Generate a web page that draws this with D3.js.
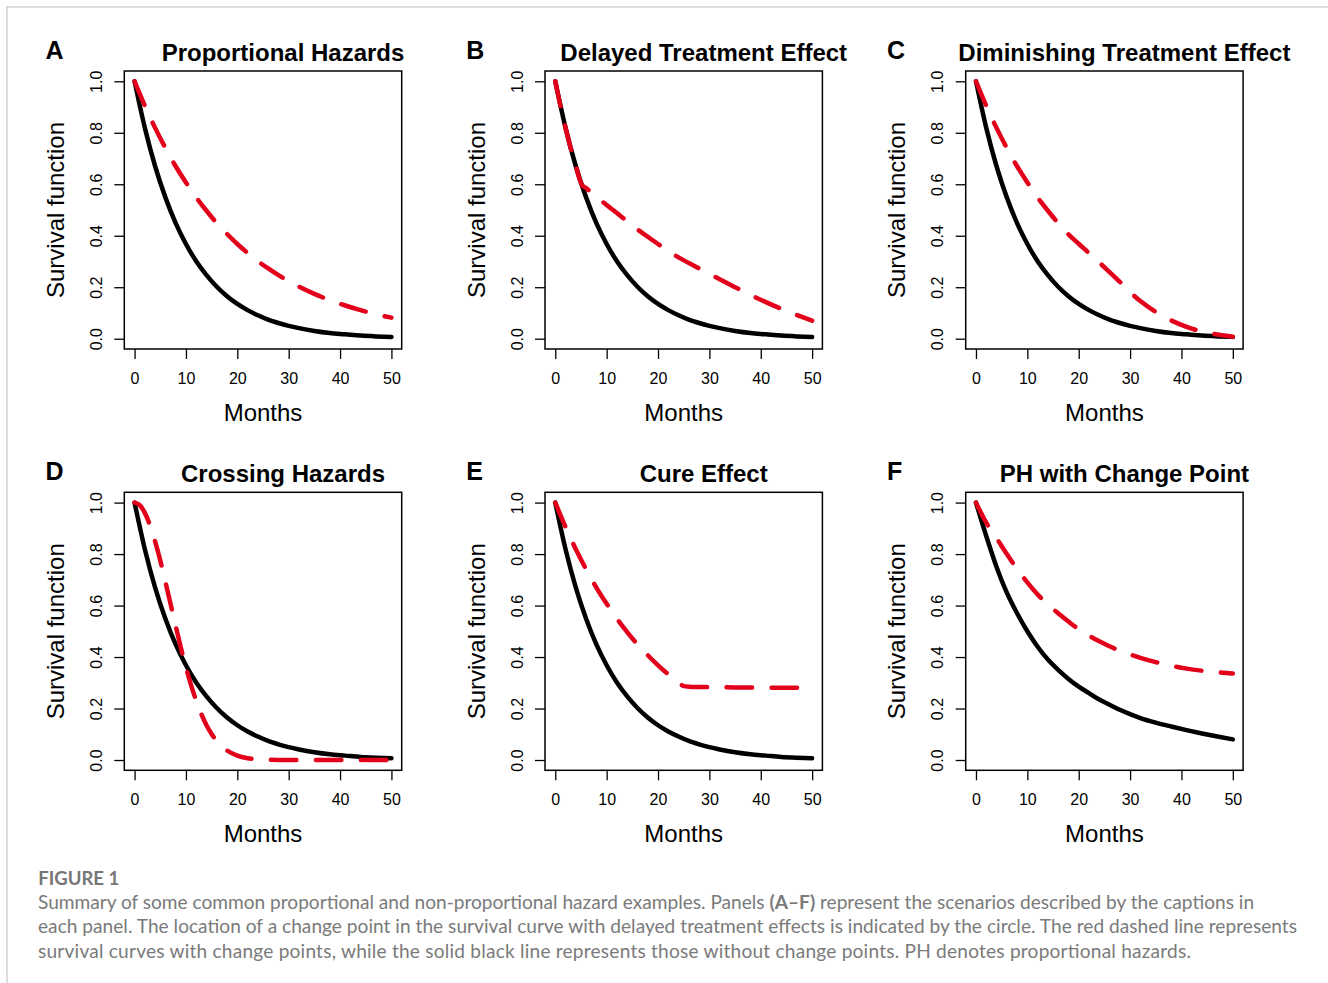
<!DOCTYPE html>
<html>
<head>
<meta charset="utf-8">
<script src="https://cdn.jsdelivr.net/npm/d3@7"></script>
<style>
  html, body { margin: 0; padding: 0; background: #fff; }
  svg { display: block; }
</style>
</head>
<body>
<svg id="chart" width="1328" height="983"></svg>
<script>
// ---------------- DATA ----------------
const xTicks = [0, 10, 20, 30, 40, 50];
const yTicks = [0, 0.2, 0.4, 0.6, 0.8, 1.0];
const yTickLabels = ["0.0", "0.2", "0.4", "0.6", "0.8", "1.0"];

const panelLetters = ["A", "B", "C", "D", "E", "F"];
const panelTitles = ["Proportional Hazards", "Delayed Treatment Effect", "Diminishing Treatment Effect",
                     "Crossing Hazards", "Cure Effect", "PH with Change Point"];

// common month grid
const months = [0, 2, 4, 6, 8, 10, 12, 14, 16, 18, 20, 22, 24, 26, 28, 30, 32, 35, 38, 41, 44, 47, 50];

// solid black curve (no change point), panels A-E
const survBase = [1.000, 0.819, 0.670, 0.549, 0.449, 0.368, 0.301, 0.247, 0.202, 0.165, 0.135, 0.111,
                  0.091, 0.074, 0.061, 0.050, 0.041, 0.030, 0.022, 0.017, 0.012, 0.009, 0.007];
// solid black curve, panel F
const survBaseF = [1.000, 0.870, 0.750, 0.650, 0.570, 0.500, 0.440, 0.390, 0.350, 0.315, 0.285, 0.260,
                   0.235, 0.215, 0.195, 0.178, 0.163, 0.145, 0.130, 0.116, 0.103, 0.091, 0.080];

// red dashed curves (with change points)
const survA = [1.000, 0.905, 0.819, 0.741, 0.670, 0.607, 0.549, 0.497, 0.449, 0.407, 0.368, 0.333,
               0.301, 0.273, 0.247, 0.223, 0.202, 0.174, 0.150, 0.129, 0.111, 0.095, 0.082];

const monthsB = [0, 1, 2, 3, 4, 5.2, 6, 8, 10, 12, 14, 16, 18, 20, 22, 24, 26, 28, 30, 32, 35, 38, 41, 44, 47, 50];
const survB = [1.000, 0.905, 0.819, 0.741, 0.670, 0.597, 0.585, 0.552, 0.519, 0.488, 0.456, 0.425, 0.396,
               0.368, 0.341, 0.316, 0.294, 0.273, 0.252, 0.231, 0.200, 0.170, 0.142, 0.116, 0.092, 0.070];

const survC = [1.000, 0.905, 0.819, 0.741, 0.670, 0.607, 0.549, 0.497, 0.449, 0.405, 0.369, 0.332,
               0.296, 0.259, 0.221, 0.181, 0.146, 0.104, 0.071, 0.046, 0.028, 0.016, 0.008];

const monthsD = [0, 1, 2, 3, 4, 5, 6, 7, 8, 9, 10, 11, 12, 13, 14, 15, 16, 18, 20, 22, 24, 26, 28, 30, 35, 40, 45, 50];
const survD = [1.000, 0.990, 0.960, 0.912, 0.849, 0.775, 0.692, 0.607, 0.521, 0.437, 0.360, 0.291, 0.230,
               0.178, 0.135, 0.101, 0.073, 0.037, 0.017, 0.007, 0.003, 0.001, 0, 0, 0, 0, 0, 0];

const monthsE = [0, 2, 4, 6, 8, 10, 12, 14, 16, 18, 20, 22, 24, 25, 26, 30, 35, 40, 45, 50];
const survE = [1.000, 0.905, 0.819, 0.741, 0.670, 0.607, 0.549, 0.497, 0.449, 0.407, 0.368, 0.333,
               0.301, 0.287, 0.285, 0.283, 0.282, 0.281, 0.281, 0.281];

const survF = [1.000, 0.922, 0.862, 0.800, 0.742, 0.690, 0.643, 0.605, 0.570, 0.538, 0.508, 0.483,
               0.461, 0.442, 0.424, 0.410, 0.397, 0.380, 0.366, 0.355, 0.347, 0.341, 0.336];

const captionHead = "FIGURE 1";
const captionLines = [
  [["Summary of some common proportional and non-proportional hazard examples. Panels ", false], ["(A\u2013F)", true], [" represent the scenarios described by the captions in", false]],
  [["each panel. The location of a change point in the survival curve with delayed treatment effects is indicated by the circle. The red dashed line represents", false]],
  [["survival curves with change points, while the solid black line represents those without change points. PH denotes proportional hazards.", false]]
];
const captionWidths = [1217, 1259, 1153];

// ---------------- LAYOUT ----------------
const panels = [
  { bx: months, by: survBase,  rx: months,  ry: survA },
  { bx: months, by: survBase,  rx: monthsB, ry: survB },
  { bx: months, by: survBase,  rx: months,  ry: survC },
  { bx: months, by: survBase,  rx: monthsD, ry: survD },
  { bx: months, by: survBase,  rx: monthsE, ry: survE },
  { bx: months, by: survBaseF, rx: months,  ry: survF }
];

const svg = d3.select("#chart");
const FONT = "'Liberation Sans', Arial, Helvetica, sans-serif";
const RED = "#e2001a";

// outer frame lines
svg.append("line").attr("x1", 6).attr("x2", 1328).attr("y1", 7).attr("y2", 7)
  .attr("stroke", "#d2d2d2").attr("stroke-width", 1.5);
svg.append("line").attr("x1", 7).attr("x2", 7).attr("y1", 6).attr("y2", 983)
  .attr("stroke", "#d2d2d2").attr("stroke-width", 1.5);

const plotW = 277.4, plotH = 278;
const colX = [124.3, 545.0, 965.7];
const rowY = [71.0, 492.3];

panels.forEach((p, i) => {
  const left = colX[i % 3], top = rowY[Math.floor(i / 3)];
  const x = d3.scaleLinear().domain([-2, 52]).range([left, left + plotW]);
  const y = d3.scaleLinear().domain([-0.04, 1.04]).range([top + plotH, top]);
  const g = svg.append("g");

  // x axis
  const xa = g.append("g").attr("transform", `translate(0,${top + plotH})`)
    .call(d3.axisBottom(x).tickValues(xTicks).tickSize(10).tickSizeOuter(0).tickPadding(13.6).tickFormat(d3.format("d")));
  xa.select(".domain").remove();
  xa.selectAll("line").attr("stroke", "#000").attr("stroke-width", 1.3);
  xa.selectAll("text").attr("font-family", FONT).attr("font-size", 16).attr("fill", "#000");

  // y axis
  const ya = g.append("g").attr("transform", `translate(${left},0)`)
    .call(d3.axisLeft(y).tickValues(yTicks).tickSize(10).tickSizeOuter(0).tickFormat((d, k) => yTickLabels[k]));
  ya.select(".domain").remove();
  ya.selectAll("line").attr("stroke", "#000").attr("stroke-width", 1.3);
  ya.selectAll("text")
    .attr("x", null).attr("dy", null)
    .attr("transform", "translate(-22.3,0) rotate(-90)")
    .attr("text-anchor", "middle")
    .attr("font-family", FONT).attr("font-size", 16).attr("fill", "#000");

  // box
  g.append("rect").attr("x", left).attr("y", top).attr("width", plotW).attr("height", plotH)
    .attr("fill", "none").attr("stroke", "#000").attr("stroke-width", 1.5);

  // curves
  const line = d3.line().x(d => x(d[0])).y(d => y(d[1])).curve(d3.curveMonotoneX);
  g.append("path").datum(p.bx.map((m, k) => [m, p.by[k]]))
    .attr("d", line).attr("fill", "none").attr("stroke", "#000").attr("stroke-width", 4.5)
    .attr("stroke-linecap", "round").attr("stroke-linejoin", "round");
  g.append("path").datum(p.rx.map((m, k) => [m, p.ry[k]]))
    .attr("d", line).attr("fill", "none").attr("stroke", RED).attr("stroke-width", 4.5)
    .attr("stroke-dasharray", "25.5,19.5")
    .attr("stroke-linecap", "round").attr("stroke-linejoin", "round");

  // labels
  g.append("text").attr("x", left + plotW / 2).attr("y", top + 350)
    .attr("text-anchor", "middle").attr("font-family", FONT).attr("font-size", 24).text("Months");
  g.append("text").attr("transform", `translate(${left - 60.3},${top + plotH / 2}) rotate(-90)`)
    .attr("text-anchor", "middle").attr("font-family", FONT).attr("font-size", 24).text("Survival function");
  g.append("text").attr("x", left + plotW / 2 + 20).attr("y", top - 10)
    .attr("text-anchor", "middle").attr("font-family", FONT).attr("font-size", 24).attr("font-weight", "bold")
    .text(panelTitles[i]);
  g.append("text").attr("x", left - 78.8).attr("y", top - 12)
    .attr("font-family", FONT).attr("font-size", 25).attr("font-weight", "bold").text(panelLetters[i]);
});

// ---------------- CAPTION ----------------
const CAPFONT = "Lato, 'Open Sans', 'Noto Sans', sans-serif";
const head = svg.append("text").attr("x", 38.3).attr("y", 885)
  .attr("font-family", CAPFONT).attr("font-weight", "bold").attr("font-size", 16)
  .attr("fill", "#767676").text(captionHead);
const hw = head.node().getComputedTextLength();
head.attr("font-size", 16 * 81 / hw);

const capTexts = captionLines.map((parts, li) => {
  const t = svg.append("text").attr("x", 38).attr("y", 908.5 + li * 24.5)
    .attr("font-family", CAPFONT).attr("font-size", 16).attr("fill", "#7a7a7a");
  parts.forEach(([s, b]) => t.append("tspan").attr("font-weight", b ? "bold" : "normal").text(s));
  return t;
});
const w0 = capTexts[0].node().getComputedTextLength();
const capSize = 16 * captionWidths[0] / w0;
capTexts.forEach(t => t.attr("font-size", capSize));
capTexts.forEach((t, li) => {
  if (li > 0) t.attr("textLength", captionWidths[li]).attr("lengthAdjust", "spacing");
});
</script>
</body>
</html>
